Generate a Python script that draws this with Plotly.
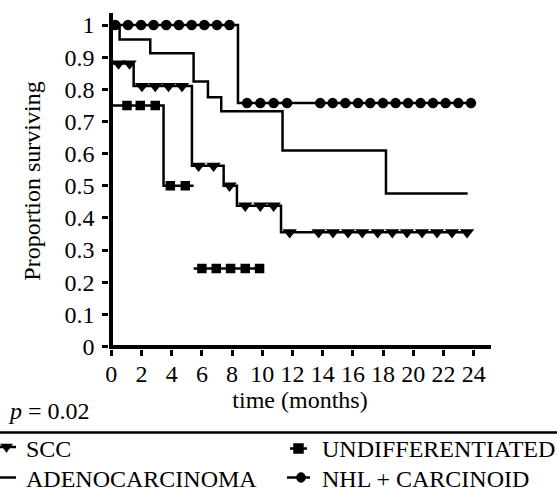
import plotly.graph_objects as go

# ---------------- data ----------------
month_ticks = list(range(0, 25, 2))
surv_ticks = [0, 0.1, 0.2, 0.3, 0.4, 0.5, 0.6, 0.7, 0.8, 0.9, 1.0]
surv_tick_labels = ["0", "0.1", "0.2", "0.3", "0.4", "0.5", "0.6", "0.7", "0.8", "0.9", "1"]

scc_t = [0, 0, 1.48, 5.34, 7.44, 8.32, 11.24, 23.8]
scc_s = [1.0, 0.88, 0.81, 0.562, 0.5, 0.438, 0.355, 0.355]
scc_cens = [0.48, 1.21, 2.03, 2.91, 3.79, 4.68, 5.78, 6.77, 7.83, 8.87, 9.87, 10.75,
            11.81, 13.73, 14.68, 15.68, 16.62, 17.64, 18.61, 19.58, 20.58, 21.57, 22.56, 23.56]

adeno_t = [0, 0.55, 2.58, 5.45, 6.40, 7.28, 11.34, 18.19, 23.6]
adeno_s = [1.0, 0.955, 0.912, 0.824, 0.775, 0.732, 0.61, 0.476, 0.476]

undiff_t = [0, 3.46, 5.45, None, 5.45, 9.9]
undiff_s = [0.75, 0.5, 0.5, None, 0.243, 0.243]
undiff_cens = [1.04, 1.92, 2.91, 3.91, 4.9, 6.0, 6.95, 7.9, 8.87, 9.82]

nhl_t = [0, 8.39, 23.82]
nhl_s = [1.0, 0.757, 0.757]
nhl_cens = [0.26, 1.11, 1.97, 2.80, 3.64, 4.48, 5.32, 6.16, 7.0, 7.83,
            8.99, 9.87, 10.75, 11.64, 13.84, 14.66, 15.5, 16.34, 17.15, 17.99,
            18.83, 19.65, 20.48, 21.3, 22.14, 22.98, 23.82]

series_names = ["SCC", "UNDIFFERENTIATED", "ADENOCARCINOMA", "NHL + CARCINOID"]
x_title = "time (months)"
y_title = "Proportion surviving"
p_text = "<i>p</i> = 0.02"


def level_at(ts, ss, c):
    val = None
    for t, s in zip(ts, ss):
        if t is None:
            continue
        if t <= c:
            val = s
    return val


# ---------------- layout geometry (pixels) ----------------
W, H = 557, 500
plot_left, plot_right, plot_top, plot_bottom = 109.3, 490.7, 13.0, 349.0
x0px, px_per_month = 111.3, 15.1
y0px, px_per_unit = 346.5, 321.5
xmin = (plot_left - x0px) / px_per_month
xmax = (plot_right - x0px) / px_per_month
ymin = (y0px - plot_bottom) / px_per_unit
ymax = (y0px - plot_top) / px_per_unit


def fx(p):
    return p / W


def fy(p):
    return 1 - p / H


FONT = "Liberation Serif, Times New Roman, serif"
LW = 2.5
TXT = dict(family=FONT, size=24, color="black")

marker_styles = {
    "SCC": dict(symbol="triangle-down", size=12.5),
    "UNDIFFERENTIATED": dict(symbol="square", size=9.5),
    "NHL + CARCINOID": dict(symbol="circle", size=10.5),
}
curves = {
    "SCC": (scc_t, scc_s, scc_cens),
    "UNDIFFERENTIATED": (undiff_t, undiff_s, undiff_cens),
    "ADENOCARCINOMA": (adeno_t, adeno_s, []),
    "NHL + CARCINOID": (nhl_t, nhl_s, nhl_cens),
}

fig = go.Figure()
for name in series_names:
    ts, ss, cens = curves[name]
    fig.add_trace(go.Scatter(x=ts, y=ss, mode="lines", name=name,
                             line=dict(color="black", width=LW, shape="hv"),
                             connectgaps=False, showlegend=False))
    if cens:
        fig.add_trace(go.Scatter(x=cens, y=[level_at(ts, ss, c) for c in cens], mode="markers",
                                 name=name + " (censored)",
                                 marker=dict(color="black", **marker_styles[name]), showlegend=False))

axis_common = dict(
    showgrid=False, showline=False, zeroline=True, zerolinecolor="black", zerolinewidth=4,
    ticks="outside", ticklen=6, tickwidth=2.5, tickcolor="black", tickfont=TXT,
)

# ---------------- manual legend ----------------
row1, row2 = 448.5, 478.5
shapes = [
    dict(type="line", xref="paper", yref="paper", x0=0, x1=1, y0=fy(432.5), y1=fy(432.5),
         line=dict(color="black", width=2.5)),
    # SCC
    dict(type="line", xref="paper", yref="paper", x0=fx(0), x1=fx(16), y0=fy(row1 - 1.5), y1=fy(row1 - 1.5),
         line=dict(color="black", width=LW)),
    dict(type="path", xref="paper", yref="paper",
         path=f"M {fx(0.5)},{fy(row1 - 4.5)} L {fx(12.5)},{fy(row1 - 4.5)} L {fx(6.5)},{fy(row1 + 4)} Z",
         fillcolor="black", line=dict(color="black", width=0.5)),
    # ADENOCARCINOMA
    dict(type="line", xref="paper", yref="paper", x0=fx(0), x1=fx(16), y0=fy(row2 - 1), y1=fy(row2 - 1),
         line=dict(color="black", width=LW)),
    # UNDIFFERENTIATED
    dict(type="line", xref="paper", yref="paper", x0=fx(290), x1=fx(307), y0=fy(row1), y1=fy(row1),
         line=dict(color="black", width=LW)),
    dict(type="rect", xref="paper", yref="paper", x0=fx(293.5), x1=fx(303.5), y0=fy(row1 - 5), y1=fy(row1 + 5),
         fillcolor="black", line=dict(color="black", width=0.5)),
    # NHL + CARCINOID
    dict(type="line", xref="paper", yref="paper", x0=fx(287), x1=fx(310), y0=fy(row2 - 1), y1=fy(row2 - 1),
         line=dict(color="black", width=LW)),
    dict(type="circle", xref="paper", yref="paper", x0=fx(296.5), x1=fx(305.5), y0=fy(row2 - 6), y1=fy(row2 + 4),
         fillcolor="black", line=dict(color="black", width=0.5)),
]

annotations = [
    dict(text=p_text, x=fx(6), y=fy(411), xanchor="left", yanchor="middle"),
    dict(text=series_names[0], x=fx(24), y=fy(row1), xanchor="left", yanchor="middle"),
    dict(text=series_names[1], x=fx(320), y=fy(row1), xanchor="left", yanchor="middle"),
    dict(text=series_names[2], x=fx(24), y=fy(row2), xanchor="left", yanchor="middle"),
    dict(text=series_names[3], x=fx(320), y=fy(row2), xanchor="left", yanchor="middle"),
]
for a in annotations:
    a.update(xref="paper", yref="paper", showarrow=False, font=TXT)

fig.update_layout(
    width=W, height=H,
    margin=dict(l=0, r=0, t=0, b=0, pad=0, autoexpand=False),
    paper_bgcolor="white", plot_bgcolor="white",
    font=TXT,
    showlegend=False,
    xaxis=dict(domain=[fx(plot_left), fx(plot_right)], range=[xmin, xmax],
               tickvals=month_ticks, ticktext=[str(m) for m in month_ticks],
               ticklabelstandoff=-3,
               title=dict(text=x_title, font=TXT, standoff=2), **axis_common),
    yaxis=dict(domain=[fy(plot_bottom), fy(plot_top)], range=[ymin, ymax],
               tickvals=surv_ticks, ticktext=surv_tick_labels,
               ticklabelstandoff=3,
               title=dict(text=y_title, font=TXT, standoff=17), **axis_common),
    shapes=shapes,
    annotations=annotations,
)

fig.write_html("out.html", config={"displayModeBar": False},
               post_script="document.body.style.margin='0';document.body.style.overflow='hidden';")
